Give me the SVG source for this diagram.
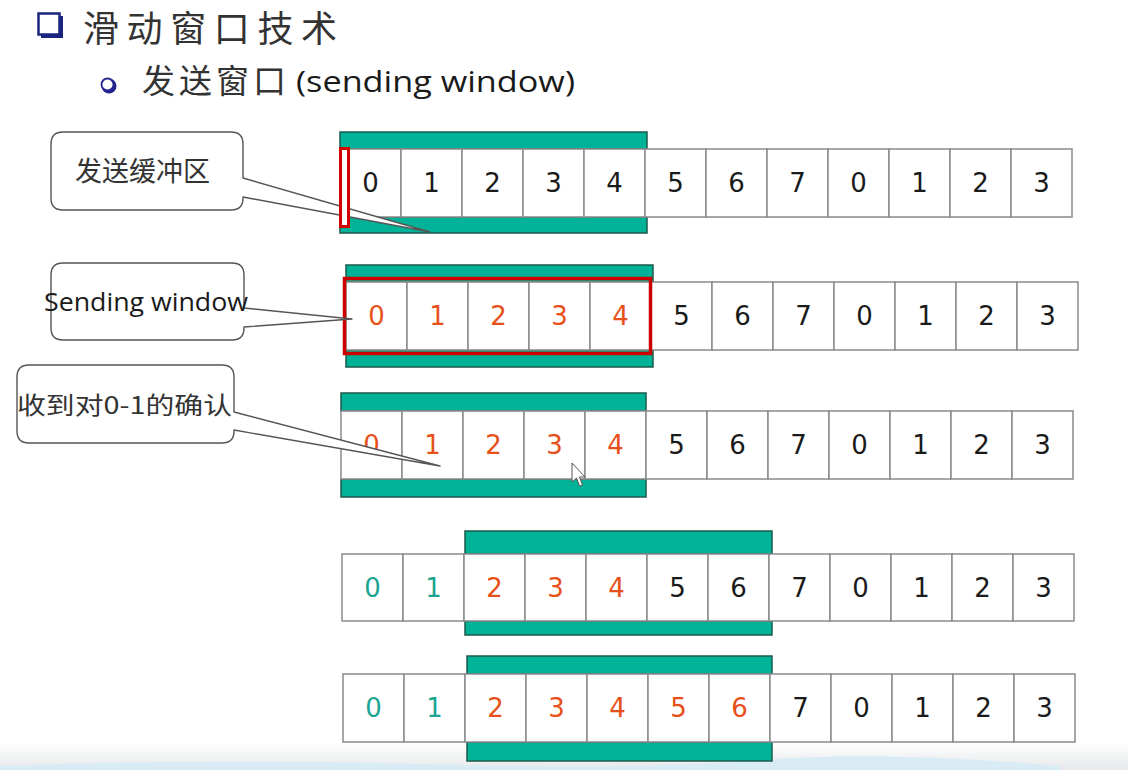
<svg xmlns="http://www.w3.org/2000/svg" width="1128" height="770" viewBox="0 0 1128 770">
<defs>
<style>
.cell{fill:#fff;stroke:#8a8a8a;stroke-width:1.5}
.bar{fill:#00b398;stroke:#1d5a4c;stroke-width:1.5}
.d{font-family:"DejaVu Sans","Liberation Sans",sans-serif;font-size:26px;text-anchor:middle;fill:#1a1a1a}
.o{fill:#e8501a}
.t{fill:#1aa592}
.call{fill:#fff;stroke:#555;stroke-width:1.4;stroke-linejoin:round}
.ct{font-family:"Noto Sans CJK SC","Noto Sans",sans-serif;fill:#333}
.en{font-family:"Open Sans","DejaVu Sans",sans-serif;fill:#1a1a1a}
</style>
<g id="cells12">
<rect class="cell" x="0" y="0" width="61" height="68"/>
<rect class="cell" x="61" y="0" width="61" height="68"/>
<rect class="cell" x="122" y="0" width="61" height="68"/>
<rect class="cell" x="183" y="0" width="61" height="68"/>
<rect class="cell" x="244" y="0" width="61" height="68"/>
<rect class="cell" x="305" y="0" width="61" height="68"/>
<rect class="cell" x="366" y="0" width="61" height="68"/>
<rect class="cell" x="427" y="0" width="61" height="68"/>
<rect class="cell" x="488" y="0" width="61" height="68"/>
<rect class="cell" x="549" y="0" width="61" height="68"/>
<rect class="cell" x="610" y="0" width="61" height="68"/>
<rect class="cell" x="671" y="0" width="61" height="68"/>
</g>
<linearGradient id="fade" x1="0" y1="0" x2="0" y2="1">
<stop offset="0" stop-color="#ffffff"/>
<stop offset="1" stop-color="#e6e8ea"/>
</linearGradient>
</defs>
<rect x="0" y="0" width="1128" height="770" fill="#fff"/>
<rect x="0" y="742" width="1128" height="28" fill="url(#fade)"/>
<path d="M0,766 Q200,758 420,764 T760,760 T1060,766 L1060,770 L0,770 Z" fill="#d9ecf6"/>

<g id="title">
<path d="M41,16 H63 V38 H41 Z" fill="#1a237e"/>
<rect x="38.5" y="13.5" width="21" height="21" fill="#fff" stroke="#1a237e" stroke-width="2.5"/>
<text class="ct" x="83" y="42" font-size="36" fill="#222" textLength="254" lengthAdjust="spacing">滑动窗口技术</text>
</g>
<g id="subtitle">
<circle cx="109" cy="86" r="7.5" fill="#24248f"/>
<circle cx="107.5" cy="84.5" r="6" fill="#fff" stroke="#24248f" stroke-width="1.8"/>
<text class="ct" x="142" y="93" font-size="33" fill="#222" textLength="144" lengthAdjust="spacing">发送窗口</text>
<text class="en" x="296" y="92" font-size="30" textLength="279" lengthAdjust="spacingAndGlyphs">(sending window)</text>
</g>

<g id="row1" transform="translate(340,149)">
<rect class="bar" x="0" y="-17" width="307" height="17"/>
<rect class="bar" x="0" y="68" width="307" height="16"/>
<use href="#cells12"/>
<text class="d" x="30.5" y="43">0</text><text class="d" x="91.5" y="43">1</text><text class="d" x="152.5" y="43">2</text><text class="d" x="213.5" y="43">3</text><text class="d" x="274.5" y="43">4</text><text class="d" x="335.5" y="43">5</text><text class="d" x="396.5" y="43">6</text><text class="d" x="457.5" y="43">7</text><text class="d" x="518.5" y="43">0</text><text class="d" x="579.5" y="43">1</text><text class="d" x="640.5" y="43">2</text><text class="d" x="701.5" y="43">3</text>
</g>

<g id="row2" transform="translate(346,282)">
<rect class="bar" x="0" y="-17" width="307" height="17"/>
<rect class="bar" x="0" y="68" width="307" height="17"/>
<use href="#cells12"/>
<text class="d o" x="30.5" y="43">0</text><text class="d o" x="91.5" y="43">1</text><text class="d o" x="152.5" y="43">2</text><text class="d o" x="213.5" y="43">3</text><text class="d o" x="274.5" y="43">4</text><text class="d" x="335.5" y="43">5</text><text class="d" x="396.5" y="43">6</text><text class="d" x="457.5" y="43">7</text><text class="d" x="518.5" y="43">0</text><text class="d" x="579.5" y="43">1</text><text class="d" x="640.5" y="43">2</text><text class="d" x="701.5" y="43">3</text>
<rect x="-1.5" y="-3.5" width="306" height="75" fill="none" stroke="#cc0000" stroke-width="3.5"/>
</g>

<g id="row3" transform="translate(341,411)">
<rect class="bar" x="0" y="-18" width="305" height="18"/>
<rect class="bar" x="0" y="68" width="305" height="18"/>
<use href="#cells12"/>
<text class="d o" x="30.5" y="43">0</text><text class="d o" x="91.5" y="43">1</text><text class="d o" x="152.5" y="43">2</text><text class="d o" x="213.5" y="43">3</text><text class="d o" x="274.5" y="43">4</text><text class="d" x="335.5" y="43">5</text><text class="d" x="396.5" y="43">6</text><text class="d" x="457.5" y="43">7</text><text class="d" x="518.5" y="43">0</text><text class="d" x="579.5" y="43">1</text><text class="d" x="640.5" y="43">2</text><text class="d" x="701.5" y="43">3</text>
</g>

<g id="row4" transform="translate(342,554)">
<rect class="bar" x="123" y="-23" width="307" height="23"/>
<rect class="bar" x="123" y="67" width="307" height="14"/>
<g transform="scale(1,0.985)"><use href="#cells12"/></g>
<text class="d t" x="30.5" y="43">0</text><text class="d t" x="91.5" y="43">1</text><text class="d o" x="152.5" y="43">2</text><text class="d o" x="213.5" y="43">3</text><text class="d o" x="274.5" y="43">4</text><text class="d" x="335.5" y="43">5</text><text class="d" x="396.5" y="43">6</text><text class="d" x="457.5" y="43">7</text><text class="d" x="518.5" y="43">0</text><text class="d" x="579.5" y="43">1</text><text class="d" x="640.5" y="43">2</text><text class="d" x="701.5" y="43">3</text>
</g>

<g id="row5" transform="translate(343,674)">
<rect class="bar" x="124" y="-18" width="305" height="18"/>
<rect class="bar" x="124" y="68" width="305" height="19"/>
<use href="#cells12"/>
<text class="d t" x="30.5" y="43">0</text><text class="d t" x="91.5" y="43">1</text><text class="d o" x="152.5" y="43">2</text><text class="d o" x="213.5" y="43">3</text><text class="d o" x="274.5" y="43">4</text><text class="d o" x="335.5" y="43">5</text><text class="d o" x="396.5" y="43">6</text><text class="d" x="457.5" y="43">7</text><text class="d" x="518.5" y="43">0</text><text class="d" x="579.5" y="43">1</text><text class="d" x="640.5" y="43">2</text><text class="d" x="701.5" y="43">3</text>
</g>

<g id="connectors"></g>

<g id="callout-buffer">
<path class="call" d="M63,132 H231 Q243,132 243,144 V178 L430,232 L243,197 V198 Q243,210 231,210 H63 Q51,210 51,198 V144 Q51,132 63,132 Z"/>
<text class="ct" x="75" y="181" font-size="27">发送缓冲区</text>
</g>
<rect id="buffer-marker" x="340.5" y="148.5" width="8" height="78" fill="#fff" stroke="#d40000" stroke-width="3"/>

<g id="callout-window">
<path class="call" d="M63,263 H232 Q244,263 244,275 V308 L352,319 L244,327 V328 Q244,340 232,340 H63 Q51,340 51,328 V275 Q51,263 63,263 Z"/>
<text class="en" x="44" y="311" font-size="25" textLength="204" lengthAdjust="spacingAndGlyphs">Sending window</text>
</g>

<g id="callout-ack">
<path class="call" d="M29,365 H222 Q234,365 234,377 V412 L440,466 L234,430 V431 Q234,443 222,443 H29 Q17,443 17,431 V377 Q17,365 29,365 Z"/>
<text class="ct" x="17" y="414" font-size="24" textLength="215" lengthAdjust="spacingAndGlyphs">收到对0-1的确认</text>
</g>

<path id="cursor" d="M572,463 L572,482 L576.5,478 L579.5,486 L582.5,485 L579.5,477 L585,477 Z" fill="#fff" stroke="#555" stroke-width="1"/>
</svg>
